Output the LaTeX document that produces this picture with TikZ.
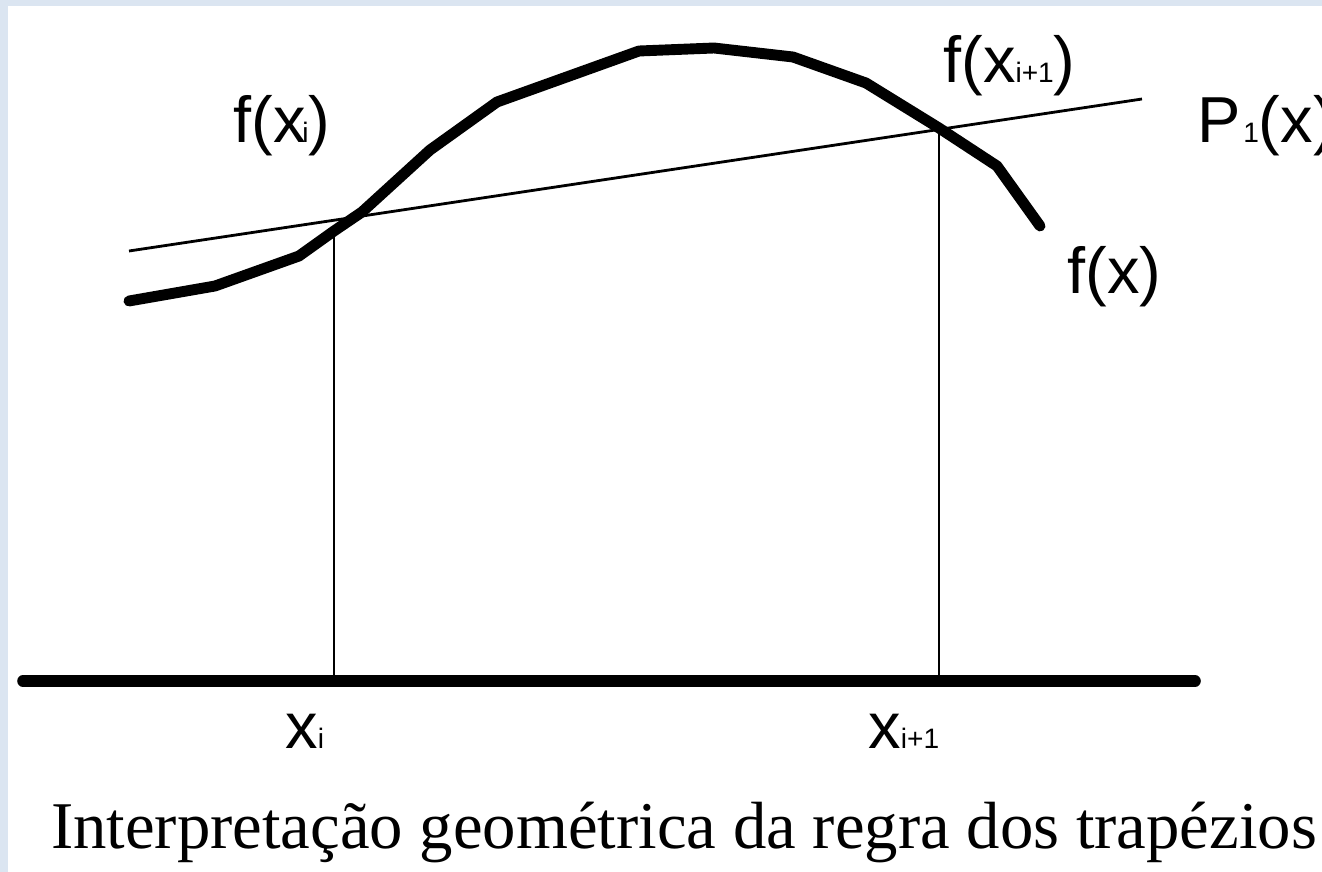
\documentclass[tikz,border=0pt]{standalone}
\usepackage{fontspec}
\setmainfont{Liberation Serif}
\newfontfamily\lblfont{Liberation Sans}
\usepackage{tikz}
\usetikzlibrary{positioning, calc}

\definecolor{framebg}{RGB}{219,229,241}
\newcommand{\lsub}[1]{{\fontsize{16}{16}\selectfont #1}}
\tikzset{
    lbl/.style={font=\lblfont\fontsize{37}{37}\selectfont, inner sep=0pt, anchor=base west},
    curveline/.style={line width=6.2pt, line cap=round, line join=round},
    chord/.style={line width=1.6pt},
    ordinate/.style={line width=1.2pt},
    axisline/.style={line width=6.6pt, line cap=round}
}

\begin{document}
\begin{tikzpicture}[x=0.02cm, y=-0.02cm]
    \fill[framebg] (0,0) rectangle (1322,872);
    \fill[white] (8,6) rectangle (1322,872);
    \useasboundingbox (0,0) rectangle (1322,872);

    \coordinate (ax0) at (23,681);
    \coordinate (ax1) at (1195,681);
    \coordinate (xi) at (334,681);
    \coordinate (xj) at (939,681);
    \coordinate (fxi) at (334,231);
    \coordinate (fxj) at (939,128);
    \coordinate (p0) at (129,251);
    \coordinate (p1) at (1142,99);

    % f(x)
    \draw[curveline] (129,301) -- (215,286) -- (299,256) -- (fxi) -- (362,212)
        -- (430,150) -- (497,102) -- (639,51) -- (714,48) -- (793,57)
        -- (866,83) -- (fxj) -- (997,166) -- (1040,226);
    % P_1(x)
    \draw[chord] (p0) -- (p1);
    \draw[ordinate] (xi) -- (fxi);
    \draw[ordinate] (xj) -- (fxj);
    \draw[axisline] (ax0) -- (ax1);

    \node[lbl] (lfxi) at (233,142) {f(x\kern-0.05em\lsub{i})};
    \node[lbl] (lfxj) at (943,82) {f(x\lsub{i+1})};
    \node[lbl] (lp) at (1197,142) {P\kern0.04em\lsub{1}(x)};
    \node[lbl] (lfx) at (1067,293) {f(x)};
    \node[lbl] (lxi) at (285,748) {x\lsub{i}};
    \node[lbl] (lxj) at (868,748) {x\lsub{i+1}};

    \node[font=\fontsize{38}{38}\selectfont, inner sep=0pt, anchor=base] (caption) at (684,848)
        {Interpretação geométrica da regra dos trapézios};
\end{tikzpicture}
\end{document}
